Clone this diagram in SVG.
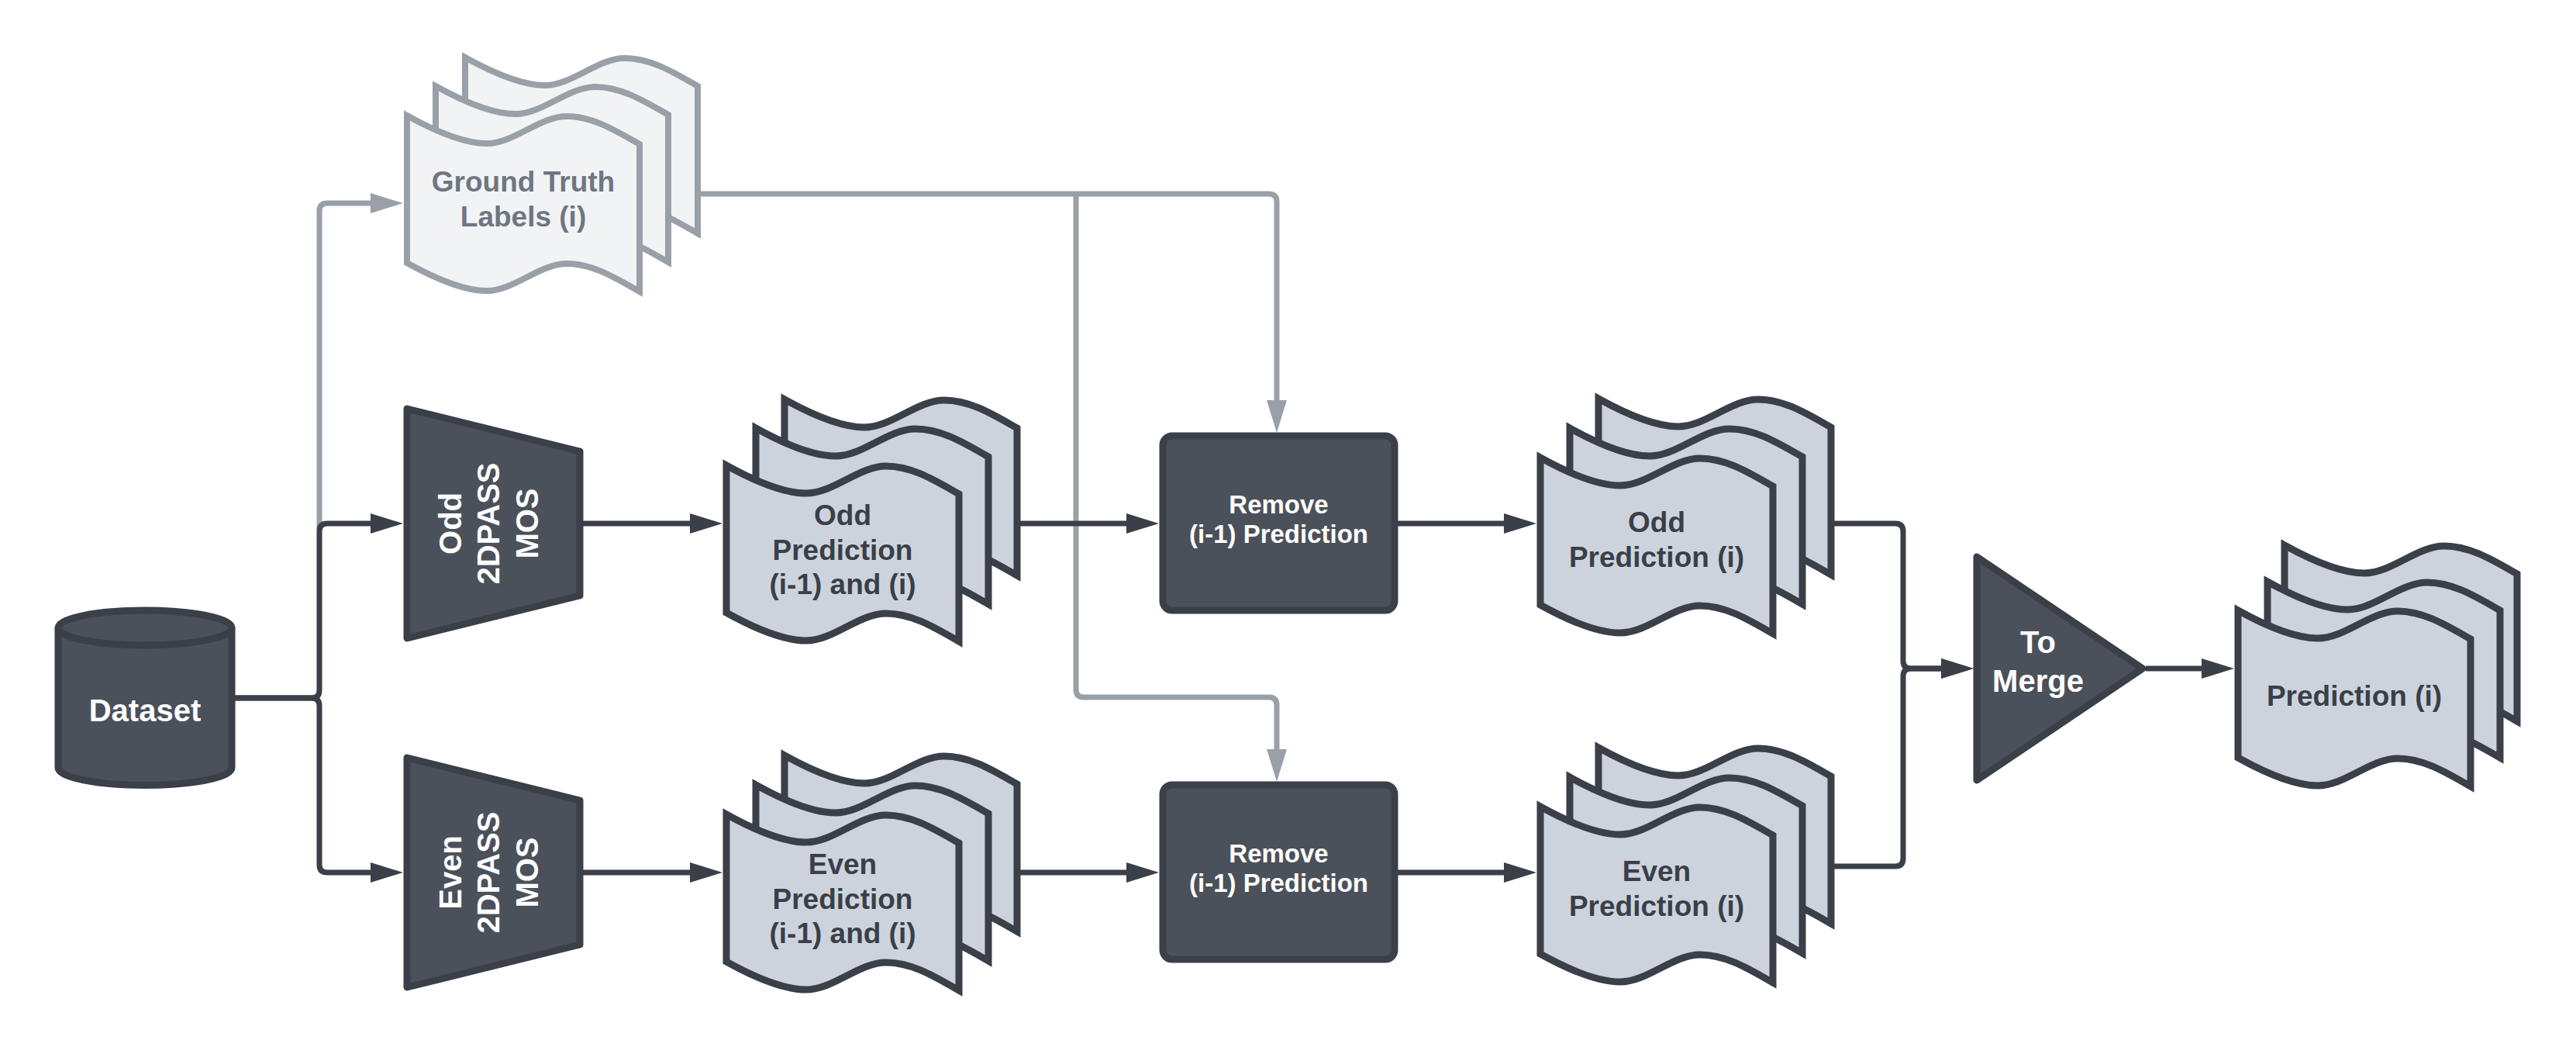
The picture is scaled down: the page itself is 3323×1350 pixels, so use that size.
<svg xmlns="http://www.w3.org/2000/svg" xmlns:xlink="http://www.w3.org/1999/xlink" width="3323" height="1350" viewBox="0 0 3323 1350">
<style>
.dk{fill:#4b515b;stroke:#3a3f48;stroke-width:9;stroke-linejoin:round}
.sh{fill:#cdd3dc;stroke:#3a3f48;stroke-width:9;stroke-linejoin:miter}
.gt{fill:#f2f3f5;stroke:#9aa0a8;stroke-width:8;stroke-linejoin:miter}
.cd{fill:none;stroke:#3a3f48;stroke-width:7}
.cg{fill:none;stroke:#9aa0a8;stroke-width:7}
text{font-family:"Liberation Sans",Arial,sans-serif;font-weight:bold;text-anchor:middle}
.tw{fill:#ffffff}
.td{fill:#3a3f48;font-size:37px}
.tg{fill:#6f7682;font-size:37px}
</style>
<defs>
<path id="sheet" d="M0,0 C36,20 75,36 103,36 C138,36 171,1 206,1 C240,1 270,20 300,37 L300,227 C270,210 240,191 206,191 C171,191 138,226 103,226 C75,226 36,210 0,190 Z"/>
<marker id="ad" markerUnits="userSpaceOnUse" viewBox="0 0 42 26" refX="0" refY="13" markerWidth="42" markerHeight="26" orient="auto"><path d="M0,0 L42,13 L0,26 Z" fill="#3a3f48"/></marker>
<marker id="ag" markerUnits="userSpaceOnUse" viewBox="0 0 42 26" refX="0" refY="13" markerWidth="42" markerHeight="26" orient="auto"><path d="M0,0 L42,13 L0,26 Z" fill="#9aa0a8"/></marker>
</defs>
<rect width="3323" height="1350" fill="#ffffff"/>
<g id="connectors">
<path class="cg" d="M412,682 V272 Q412,262 422,262 H478" marker-end="url(#ag)"/>
<path class="cg" d="M900,250 H1637 Q1647,250 1647,260 V516" marker-end="url(#ag)"/>
<path class="cg" d="M1388,250 V889 Q1388,899 1398,899 H1637 Q1647,899 1647,909 V966" marker-end="url(#ag)"/>
<path class="cd" d="M303,900 H402 Q412,900 412,890 V685 Q412,675 422,675 H478" marker-end="url(#ad)"/>
<path class="cd" d="M303,900 H402 Q412,900 412,910 V1115 Q412,1125 422,1125 H478" marker-end="url(#ad)"/>
<path class="cd" d="M752,675 H890" marker-end="url(#ad)"/>
<path class="cd" d="M752,1125 H890" marker-end="url(#ad)"/>
<path class="cd" d="M1312,675 H1453" marker-end="url(#ad)"/>
<path class="cd" d="M1312,1125 H1453" marker-end="url(#ad)"/>
<path class="cd" d="M1803,675 H1940" marker-end="url(#ad)"/>
<path class="cd" d="M1803,1125 H1940" marker-end="url(#ad)"/>
<path class="cd" d="M2362,675 H2445 Q2455,675 2455,685 V852 Q2455,862 2465,862 H2504" marker-end="url(#ad)"/>
<path class="cd" d="M2362,1117 H2445 Q2455,1117 2455,1107 V872 Q2455,862 2465,862 H2504" marker-end="url(#ad)"/>
<path class="cd" d="M2768,862 H2840" marker-end="url(#ad)"/>
</g>
<g id="dataset">
<path class="dk" d="M75,809.5 A112,22.5 0 0 1 299,809.5 V990 A112,22.5 0 0 1 75,990 Z"/>
<path class="dk" d="M75,809.5 A112,22.5 0 0 0 299,809.5" fill="none"/>
<text class="tw" x="187" y="930" font-size="40">Dataset</text>
</g>
<g id="ground-truth">
<use xlink:href="#sheet" class="gt" x="600" y="74"/>
<use xlink:href="#sheet" class="gt" x="562" y="111"/>
<use xlink:href="#sheet" class="gt" x="525" y="149"/>
<text class="tg" x="675" y="247">Ground Truth</text>
<text class="tg" x="675" y="292">Labels (i)</text>
</g>
<g id="odd-model">
<polygon class="dk" points="525,527 748,582 748,768 525,823"/>
<text class="tw" font-size="40" transform="translate(0,675) rotate(-90)"><tspan x="0" y="595">Odd</tspan><tspan x="0" y="644">2DPASS</tspan><tspan x="0" y="694">MOS</tspan></text>
</g>
<g id="even-model">
<polygon class="dk" points="525,977 748,1032 748,1218 525,1273"/>
<text class="tw" font-size="40" transform="translate(0,1125) rotate(-90)"><tspan x="0" y="595">Even</tspan><tspan x="0" y="644">2DPASS</tspan><tspan x="0" y="694">MOS</tspan></text>
</g>
<g id="odd-pred-prev">
<use xlink:href="#sheet" class="sh" x="1012" y="515"/>
<use xlink:href="#sheet" class="sh" x="975" y="552"/>
<use xlink:href="#sheet" class="sh" x="937" y="600"/>
<text class="td" x="1087" y="677">Odd</text>
<text class="td" x="1087" y="722">Prediction</text>
<text class="td" x="1087" y="766">(i-1) and (i)</text>
</g>
<g id="even-pred-prev">
<use xlink:href="#sheet" class="sh" x="1012" y="974"/>
<use xlink:href="#sheet" class="sh" x="975" y="1012"/>
<use xlink:href="#sheet" class="sh" x="937" y="1050"/>
<text class="td" x="1087" y="1127">Even</text>
<text class="td" x="1087" y="1172">Prediction</text>
<text class="td" x="1087" y="1216">(i-1) and (i)</text>
</g>
<g id="odd-remove">
<rect class="dk" x="1500" y="562" width="299" height="225" rx="12"/>
<text class="tw" x="1649.5" y="662" font-size="33">Remove</text>
<text class="tw" x="1649.5" y="700" font-size="33">(i-1) Prediction</text>
</g>
<g id="even-remove">
<rect class="dk" x="1500" y="1012" width="299" height="225" rx="12"/>
<text class="tw" x="1649.5" y="1112" font-size="33">Remove</text>
<text class="tw" x="1649.5" y="1150" font-size="33">(i-1) Prediction</text>
</g>
<g id="odd-pred">
<use xlink:href="#sheet" class="sh" x="2062" y="514"/>
<use xlink:href="#sheet" class="sh" x="2025" y="552"/>
<use xlink:href="#sheet" class="sh" x="1987" y="590"/>
<text class="td" x="2137" y="686">Odd</text>
<text class="td" x="2137" y="731">Prediction (i)</text>
</g>
<g id="even-pred">
<use xlink:href="#sheet" class="sh" x="2062" y="964"/>
<use xlink:href="#sheet" class="sh" x="2025" y="1002"/>
<use xlink:href="#sheet" class="sh" x="1987" y="1040"/>
<text class="td" x="2137" y="1136">Even</text>
<text class="td" x="2137" y="1181">Prediction (i)</text>
</g>
<g id="merge">
<polygon class="dk" points="2550,718 2764,862 2550,1006"/>
<text class="tw" x="2629" y="842" font-size="40">To</text>
<text class="tw" x="2629" y="892" font-size="40">Merge</text>
</g>
<g id="prediction">
<use xlink:href="#sheet" class="sh" x="2947" y="703"/>
<use xlink:href="#sheet" class="sh" x="2925" y="750"/>
<use xlink:href="#sheet" class="sh" x="2887" y="787"/>
<text class="td" x="3037" y="910">Prediction (i)</text>
</g>
</svg>
